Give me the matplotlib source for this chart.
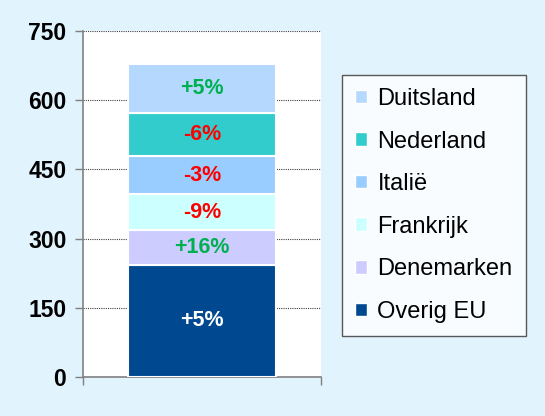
import matplotlib
matplotlib.use("Agg")
import matplotlib.pyplot as plt
from matplotlib.patches import Patch

plt.rcParams['font.family'] = ['Liberation Sans', 'DejaVu Sans']

# Data (stack order bottom -> top)
categories = ["Overig EU", "Denemarken", "Frankrijk", "Italië", "Nederland", "Duitsland"]
values = [243, 76, 77, 82, 94, 107]
changes = ["+5%", "+16%", "-9%", "-3%", "-6%", "+5%"]
colors = ["#004990", "#CCCCFF", "#CCFFFF", "#99CCFF", "#33CCCC", "#B4D8FE"]
label_colors = ["white", "#00B050", "#FF0000", "#FF0000", "#FF0000", "#00B050"]
yticks = [0, 150, 300, 450, 600, 750]

bg = "#E1F3FD"
fig = plt.figure(figsize=(5.45, 4.16), dpi=100, facecolor=bg)
ax = fig.add_axes([83/545, 1-377/416, (321-83)/545, (377-31)/416])
ax.set_facecolor("white")

bottom = 0
for cat, v, ch, c, lc in zip(categories, values, changes, colors, label_colors):
    ax.bar(0, v, width=0.62, bottom=bottom, color=c, edgecolor="white", linewidth=1.5, zorder=3, label=cat)
    ax.text(0, bottom + v/2, ch, ha="center", va="center", color=lc,
            fontsize=15.5, fontweight="bold", zorder=4)
    bottom += v

ax.set_xlim(-0.5, 0.5)
ax.set_ylim(0, 750)
ax.set_yticks(yticks)
ax.set_yticklabels([str(t) for t in yticks], fontsize=16.5, fontweight="bold")
ax.yaxis.grid(True, color="#404040", linestyle=(0, (1, 1)), linewidth=0.8, zorder=0)
ax.set_axisbelow(True)
ax.set_xticks([-0.5, 0.5])
ax.set_xticklabels(["", ""])
ax.tick_params(axis="x", direction="out", length=6, color="#808080", width=1)
ax.tick_params(axis="y", direction="out", length=6, color="#808080", width=1, pad=6)
for s in ["top", "right"]:
    ax.spines[s].set_visible(False)
for s in ["left", "bottom"]:
    ax.spines[s].set_color("#808080")
    ax.spines[s].set_linewidth(1.2)

handles = [Patch(facecolor=c, edgecolor="white", label=cat) for cat, c in zip(categories, colors)][::-1]
leg = fig.legend(handles=handles, loc="upper left",
                 bbox_to_anchor=(342/545, 1-75/416), bbox_transform=fig.transFigure,
                 frameon=True, fancybox=False, fontsize=17, handlelength=0.5, handleheight=0.5,
                 handletextpad=0.45, labelspacing=0.87, borderpad=0.55, borderaxespad=0)
leg.get_frame().set_edgecolor("#303030")
leg.get_frame().set_linewidth(1.0)
leg.get_frame().set_facecolor("white")

fig.savefig("out.png", dpi=100, facecolor=bg)
